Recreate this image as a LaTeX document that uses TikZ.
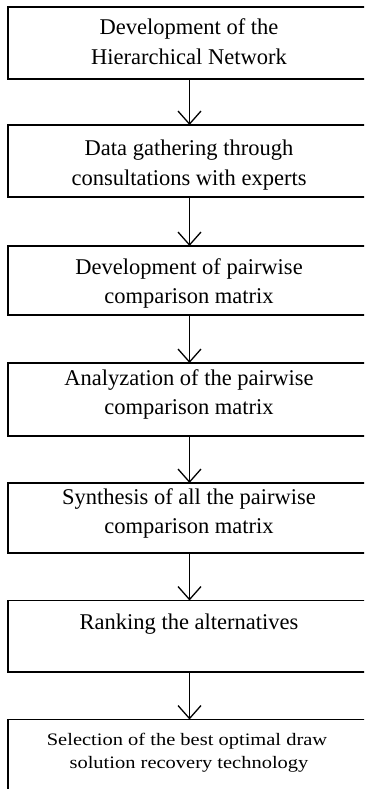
\documentclass[tikz,border=0pt]{standalone}
\usepackage{fontspec}
\setmainfont{Liberation Serif}
\newfontfamily\widefont[FakeStretch=1.17]{Liberation Serif}
\usetikzlibrary{arrows.meta}
\begin{document}
\begin{tikzpicture}[x=1pt,y=-1pt,
  stepbox/.style={draw, line width=1.8pt, minimum width=363pt, inner sep=0pt, outer sep=0pt, anchor=north west},
  txt/.style={anchor=base, inner sep=0pt, font=\fontsize{22.5}{30}\selectfont},
  smalltxt/.style={anchor=base, inner sep=0pt, font=\widefont\fontsize{17.5}{23}\selectfont},
  flow/.style={line width=1.3pt, -{Straight Barb[length=13pt,width=23pt,line width=1.3pt]}}]
\useasboundingbox (0,0) rectangle (364,789);
\clip (0,0) rectangle (364,789);
% boxes
\node[stepbox, minimum height=72pt] (b1) at (8,7) {};
\node[stepbox, minimum height=72pt] (b2) at (8,125) {};
\node[stepbox, minimum height=69pt] (b3) at (8,246) {};
\node[stepbox, minimum height=73pt] (b4) at (8,363) {};
\node[stepbox, minimum height=70pt] (b5) at (8,483) {};
\node[stepbox, minimum height=71.5pt] (b6) at (8,600.5) {};
\node[stepbox, minimum height=110pt] (b7) at (8,719.5) {};
% texts
\node[txt] (t1a) at (189,34.3) {Development of the};
\node[txt] (t1b) at (189,64.5) {Hierarchical Network};
\node[txt] (t2a) at (189,155) {Data gathering through};
\node[txt] (t2b) at (189,185) {consultations with experts};
\node[txt] (t3a) at (189,274) {Development of pairwise};
\node[txt] (t3b) at (189,303) {comparison matrix};
\node[txt] (t4a) at (189,385) {Analyzation of the pairwise};
\node[txt] (t4b) at (189,414) {comparison matrix};
\node[txt] (t5a) at (189,504) {Synthesis of all the pairwise};
\node[txt] (t5b) at (189,533) {comparison matrix};
\node[txt] (t6a) at (189,629) {Ranking the alternatives};
\node[smalltxt] (t7a) at (187,745) {Selection of the best optimal draw};
\node[smalltxt] (t7b) at (189,768) {solution recovery technology};
% connectors
\draw[flow] (b1.south) -- (b2.north);
\draw[flow] (b2.south) -- (b3.north);
\draw[flow] (b3.south) -- (b4.north);
\draw[flow] (b4.south) -- (b5.north);
\draw[flow] (b5.south) -- (b6.north);
\draw[flow] (b6.south) -- (b7.north);
\end{tikzpicture}
\end{document}
